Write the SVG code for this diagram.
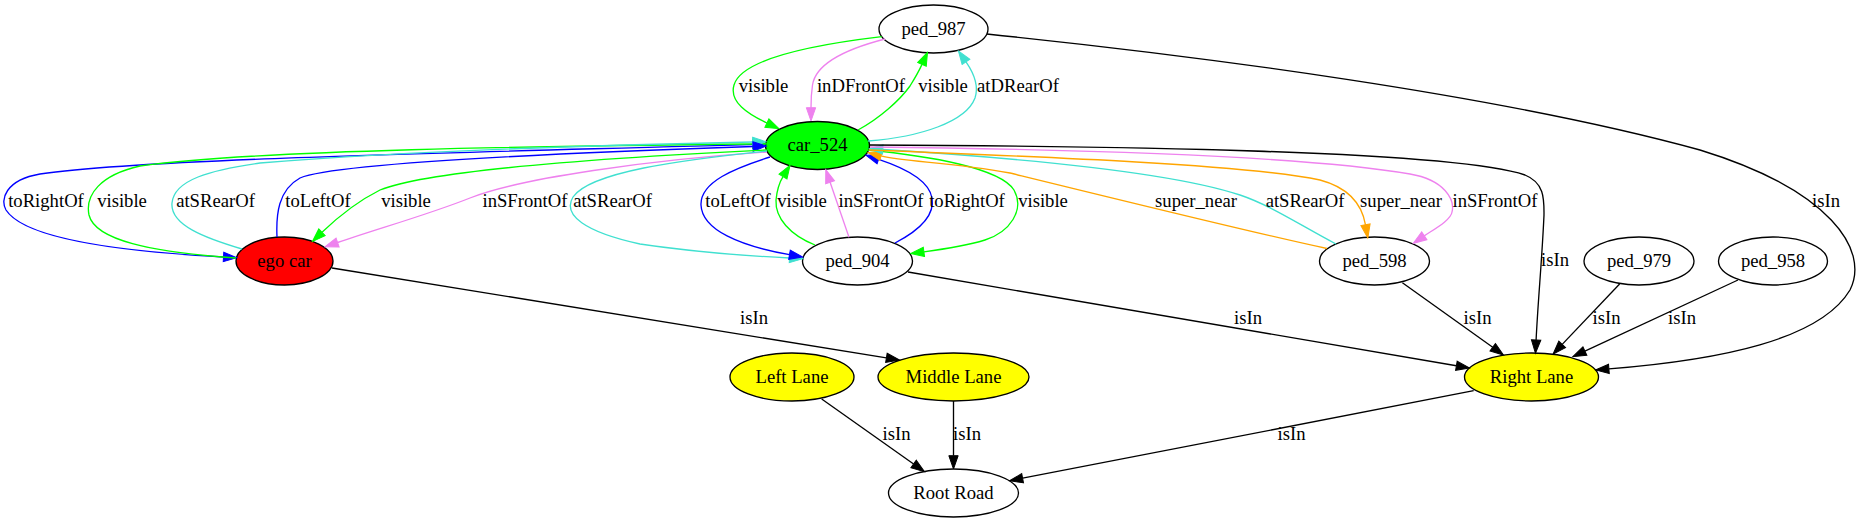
<svg xmlns="http://www.w3.org/2000/svg" width="1858" height="523" viewBox="0 0 1858 523">
<style>
text { font-family: "Liberation Serif", "Times New Roman", serif; font-size: 18.67px; text-anchor: middle; fill: #000; }
.node ellipse { stroke: #000; stroke-width: 1.33; }
.e path { fill: none; stroke-width: 1.33; }
.k path { stroke: #000; }
.g path { stroke: #00ff00; }
.b path { stroke: #0000ff; }
.t path { stroke: #40e0d0; }
.v path { stroke: #ee82ee; }
.o path { stroke: #ffa500; }
.k path { marker-end: url(#m-k); }
.g path { marker-end: url(#m-g); }
.b path { marker-end: url(#m-b); }
.t path { marker-end: url(#m-t); }
.v path { marker-end: url(#m-v); }
.o path { marker-end: url(#m-o); }
</style>
<defs>
<marker id="m-k" viewBox="-1 -1 16 12" refX="0" refY="4.67" markerWidth="16" markerHeight="12" markerUnits="userSpaceOnUse" orient="auto"><path d="M0,0 L13.3,4.67 L0,9.33 Z" fill="#000" stroke="#000" stroke-width="1"/></marker>
<marker id="m-g" viewBox="-1 -1 16 12" refX="0" refY="4.67" markerWidth="16" markerHeight="12" markerUnits="userSpaceOnUse" orient="auto"><path d="M0,0 L13.3,4.67 L0,9.33 Z" fill="#00ff00" stroke="#00ff00" stroke-width="1"/></marker>
<marker id="m-b" viewBox="-1 -1 16 12" refX="0" refY="4.67" markerWidth="16" markerHeight="12" markerUnits="userSpaceOnUse" orient="auto"><path d="M0,0 L13.3,4.67 L0,9.33 Z" fill="#0000ff" stroke="#0000ff" stroke-width="1"/></marker>
<marker id="m-t" viewBox="-1 -1 16 12" refX="0" refY="4.67" markerWidth="16" markerHeight="12" markerUnits="userSpaceOnUse" orient="auto"><path d="M0,0 L13.3,4.67 L0,9.33 Z" fill="#40e0d0" stroke="#40e0d0" stroke-width="1"/></marker>
<marker id="m-v" viewBox="-1 -1 16 12" refX="0" refY="4.67" markerWidth="16" markerHeight="12" markerUnits="userSpaceOnUse" orient="auto"><path d="M0,0 L13.3,4.67 L0,9.33 Z" fill="#ee82ee" stroke="#ee82ee" stroke-width="1"/></marker>
<marker id="m-o" viewBox="-1 -1 16 12" refX="0" refY="4.67" markerWidth="16" markerHeight="12" markerUnits="userSpaceOnUse" orient="auto"><path d="M0,0 L13.3,4.67 L0,9.33 Z" fill="#ffa500" stroke="#ffa500" stroke-width="1"/></marker>
</defs>
<rect width="1858" height="523" fill="#fff"/>

<g id="node-ped_987" class="node"><ellipse cx="933.5" cy="29" rx="54.5" ry="24" fill="#fff"/><text x="933.5" y="34.6">ped_987</text></g>
<g id="node-car_524" class="node"><ellipse cx="817.5" cy="145.5" rx="52" ry="24" fill="#00ff00"/><text x="817.5" y="151.1">car_524</text></g>
<g id="node-ego_car" class="node"><ellipse cx="284.5" cy="261" rx="48.5" ry="24" fill="#ff0000"/><text x="284.5" y="266.6">ego car</text></g>
<g id="node-ped_904" class="node"><ellipse cx="857.5" cy="261" rx="55" ry="24" fill="#fff"/><text x="857.5" y="266.6">ped_904</text></g>
<g id="node-ped_598" class="node"><ellipse cx="1374.5" cy="261" rx="55" ry="24" fill="#fff"/><text x="1374.5" y="266.6">ped_598</text></g>
<g id="node-ped_979" class="node"><ellipse cx="1639" cy="261" rx="55" ry="24" fill="#fff"/><text x="1639" y="266.6">ped_979</text></g>
<g id="node-ped_958" class="node"><ellipse cx="1773" cy="261" rx="54.5" ry="24" fill="#fff"/><text x="1773" y="266.6">ped_958</text></g>
<g id="node-left_lane" class="node"><ellipse cx="792" cy="377" rx="62" ry="24" fill="#ffff00"/><text x="792" y="382.6">Left Lane</text></g>
<g id="node-middle_lane" class="node"><ellipse cx="953.5" cy="377" rx="75.5" ry="24" fill="#ffff00"/><text x="953.5" y="382.6">Middle Lane</text></g>
<g id="node-right_lane" class="node"><ellipse cx="1531.5" cy="377" rx="67" ry="24" fill="#ffff00"/><text x="1531.5" y="382.6">Right Lane</text></g>
<g id="node-root_road" class="node"><ellipse cx="953.5" cy="493" rx="65" ry="24" fill="#fff"/><text x="953.5" y="498.6">Root Road</text></g>

<g id="connectors">
<g class="e g"><path d="M881.7,36.7 C820,44 742,58 734,85 C729,102 748,114 766.9,123"/><text x="763.5" y="92">visible</text></g>
<g class="e v"><path d="M885,39 C850,48 816,62 812.5,85 C811,95 811,100 811,107.7"/><text x="861" y="92">inDFrontOf</text></g>
<g class="e g"><path d="M858,130 C880,118 900,100 910,86 C915,78 919,71 922,64.4"/><text x="943" y="92">visible</text></g>
<g class="e t"><path d="M868,141 C920,137 966,122 975,98 C979,86 973,72 966,61.9"/><text x="1018" y="92">atDRearOf</text></g>
<g class="e k"><path d="M986.8,34 C1200,56 1500,95 1700,150 C1830,190 1870,250 1850,290 C1820,340 1720,360 1608.9,368.9"/><text x="1826" y="207">isIn</text></g>

<g class="e b"><path d="M766,144 C500,152 150,158 40,174 C5,180 0,200 6,210 C25,240 130,252 223.5,257"/><text x="46" y="207">toRightOf</text></g>
<g class="e g"><path d="M236,258 C150,252 95,240 89,215 C85,195 100,175 140,166 C250,150 550,146 752.7,144"/><text x="122" y="207">visible</text></g>
<g class="e t"><path d="M242,249 C205,238 170,225 172,203 C174,180 210,170 260,163 C400,152 600,145 752.7,142"/><text x="215.5" y="207">atSRearOf</text></g>
<g class="e b"><path d="M277,237 C276,215 278,190 300,178 C330,165 500,155 753,146.5"/><text x="318" y="207">toLeftOf</text></g>
<g class="e g"><path d="M767,150 C600,158 430,170 380,190 C360,200 340,215 322,232.3"/><text x="406" y="207">visible</text></g>
<g class="e v"><path d="M767,152 C650,160 520,178 470,198 C430,214 380,228 337.6,242.5"/><text x="525" y="207">inSFrontOf</text></g>

<g class="e t"><path d="M767,151 C680,160 590,172 573,197 C562,215 585,232 640,244 C700,253 750,256 789.5,258"/><text x="612.5" y="207">atSRearOf</text></g>
<g class="e b"><path d="M770,157 C735,168 700,182 701,205 C702,230 740,246 789.5,254.7"/><text x="738" y="207">toLeftOf</text></g>
<g class="e g"><path d="M815,245 C790,235 775,218 776,200 C777,190 779,183 783,176.6"/><text x="802" y="207">visible</text></g>
<g class="e v"><path d="M849,237.3 L830.1,182.2"/><text x="881" y="207">inSFrontOf</text></g>
<g class="e b"><path d="M895,243 C920,230 935,215 932,198 C929,180 905,168 878.6,159.3"/><text x="967" y="207">toRightOf</text></g>
<g class="e g"><path d="M867,150 C930,156 1000,168 1014,190 C1025,210 1010,232 985,240 C965,246 945,249 923.9,251.8"/><text x="1043" y="207">visible</text></g>

<g class="e o"><path d="M1327,248.5 C1250,232 1120,200 1010,173 C950,162 905,162 881,155.9"/><text x="1196" y="207">super_near</text></g>
<g class="e t"><path d="M1336,244 C1300,225 1270,205 1240,195 C1180,175 1050,160 882.8,149.5"/><text x="1305" y="207">atSRearOf</text></g>
<g class="e o"><path d="M869,150 C1050,157 1250,165 1320,180 C1350,188 1362,205 1365.5,224.8"/><text x="1401" y="207">super_near</text></g>
<g class="e v"><path d="M870,147 C1050,149 1300,155 1410,174 C1445,180 1455,200 1452,212 C1451,220 1434.3,229.1 1424.3,235.85"/><text x="1495" y="207">inSFrontOf</text></g>
<g class="e k"><path d="M869,145 C1100,146 1450,150 1525,175 C1545,183 1544,200 1544,215 C1542,260 1538,300 1536.1,340"/><text x="1555" y="266">isIn</text></g>

<g class="e k"><path d="M332,268 L886.4,357.9"/><text x="754" y="323.5">isIn</text></g>
<g class="e k"><path d="M908,272 L1456.4,365.75"/><text x="1248" y="323.5">isIn</text></g>
<g class="e k"><path d="M1402.4,282.7 L1492.7,347.3"/><text x="1477.5" y="323.5">isIn</text></g>
<g class="e k"><path d="M1619.6,284 L1562.2,344.4"/><text x="1606.5" y="323.5">isIn</text></g>
<g class="e k"><path d="M1738,280 L1584.9,351.1"/><text x="1682" y="323.5">isIn</text></g>
<g class="e k"><path d="M1473.7,390.7 L1022.6,478.2"/><text x="1291.5" y="439.5">isIn</text></g>
<g class="e k"><path d="M821.7,399 L913.6,464"/><text x="896.5" y="439.5">isIn</text></g>
<g class="e k"><path d="M953.5,401 L953.5,455.7"/><text x="967" y="439.5">isIn</text></g>
</g>
</svg>
